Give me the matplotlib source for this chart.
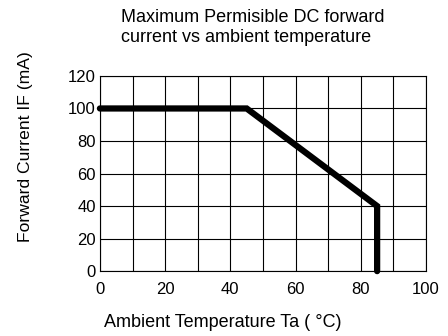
import matplotlib
matplotlib.use("Agg")
import matplotlib.pyplot as plt
import numpy as np

plt.rcParams['font.family'] = ['Liberation Sans', 'DejaVu Sans']

# derating curve
temp = [0, 45, 85, 85]
current = [100, 100, 40, 0]

xticks = [0, 20, 40, 60, 80, 100]
yticks = [0, 20, 40, 60, 80, 100, 120]

fig = plt.figure(figsize=(4.48, 3.36), dpi=100)
ax = fig.add_axes([0.223, 0.193, 0.728, 0.581])

ax.plot(temp, current, color='black', lw=4.5, solid_joinstyle='miter',
        solid_capstyle='round', zorder=3, clip_on=False)

ax.set_xlim(0, 100)
ax.set_ylim(0, 120)
ax.set_xticks(xticks)
ax.set_xticks(np.arange(10, 100, 20), minor=True)
ax.set_yticks(yticks)
ax.grid(True, which='both', color='black', lw=0.8)
ax.tick_params(which='both', length=0, labelsize=12)
ax.tick_params(axis='x', pad=8)
ax.tick_params(axis='y', pad=3)
for s in ax.spines.values():
    s.set_linewidth(0.8)

ax.set_xlabel('Ambient Temperature Ta ( °C)', fontsize=13)
ax.xaxis.set_label_coords(0.377, -0.22)
ax.set_ylabel('Forward Current IF (mA)', fontsize=12.6)
ax.yaxis.set_label_coords(-0.205, 0.638)

fig.text(121 / 448, 1 - 9 / 336, 'Maximum Permisible DC forward\ncurrent vs ambient temperature',
         ha='left', va='top', fontsize=13, linespacing=1.2)

fig.savefig('out.png', dpi=100)
